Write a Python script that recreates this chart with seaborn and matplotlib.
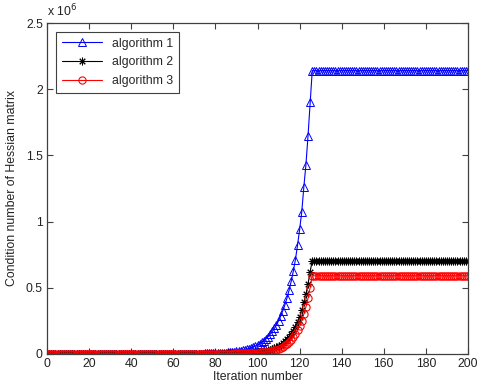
import matplotlib
matplotlib.use("Agg")
import matplotlib.pyplot as plt
import matplotlib.ticker as mticker
import seaborn as sns
import pandas as pd

# ---------------- data (values in units of 1e6) ----------------
iterations = list(range(0, 201))

alg1 = [
    0.0, 0.0, 0.0, 0.0, 0.0, 0.0, 0.0, 0.0, 0.0, 0.0,
    0.0, 0.0, 0.0, 0.0, 0.0, 0.0, 0.0, 0.0, 0.0, 0.0,
    0.0, 0.0, 0.0, 0.0, 0.0, 0.0, 0.0, 0.0, 0.0, 0.0,
    0.0, 0.0, 0.0, 0.0, 0.0, 0.0, 0.0, 0.0, 0.0, 0.0,
    0.0, 0.0, 0.0, 0.0, 0.0, 0.0, 0.0, 0.0, 0.0, 0.0,
    0.0, 0.0, 0.0, 0.0, 0.0, 0.0, 0.0, 0.0, 0.0, 0.0,
    0.001, 0.001, 0.001, 0.001, 0.001, 0.001, 0.001, 0.001, 0.001, 0.001,
    0.002, 0.002, 0.002, 0.002, 0.002, 0.003, 0.003, 0.003, 0.004, 0.004,
    0.005, 0.006, 0.007, 0.008, 0.009, 0.010, 0.011, 0.012, 0.014, 0.016,
    0.018, 0.021, 0.024, 0.027, 0.031, 0.035, 0.040, 0.046, 0.052, 0.060,
    0.068, 0.077, 0.088, 0.100, 0.114, 0.130, 0.148, 0.169, 0.192, 0.219,
    0.250, 0.285, 0.325, 0.370, 0.422, 0.481, 0.548, 0.625, 0.712, 0.820,
    0.940, 1.070, 1.260, 1.430, 1.650, 1.900, 2.140, 2.140, 2.140, 2.140,
    2.14, 2.14, 2.14, 2.14, 2.14, 2.14, 2.14, 2.14, 2.14, 2.14,
    2.14, 2.14, 2.14, 2.14, 2.14, 2.14, 2.14, 2.14, 2.14, 2.14,
    2.14, 2.14, 2.14, 2.14, 2.14, 2.14, 2.14, 2.14, 2.14, 2.14,
    2.14, 2.14, 2.14, 2.14, 2.14, 2.14, 2.14, 2.14, 2.14, 2.14,
    2.14, 2.14, 2.14, 2.14, 2.14, 2.14, 2.14, 2.14, 2.14, 2.14,
    2.14, 2.14, 2.14, 2.14, 2.14, 2.14, 2.14, 2.14, 2.14, 2.14,
    2.14, 2.14, 2.14, 2.14, 2.14, 2.14, 2.14, 2.14, 2.14, 2.14,
    2.14,
]

alg2 = [
    0.0, 0.0, 0.0, 0.0, 0.0, 0.0, 0.0, 0.0, 0.0, 0.0,
    0.0, 0.0, 0.0, 0.0, 0.0, 0.0, 0.0, 0.0, 0.0, 0.0,
    0.0, 0.0, 0.0, 0.0, 0.0, 0.0, 0.0, 0.0, 0.0, 0.0,
    0.0, 0.0, 0.0, 0.0, 0.0, 0.0, 0.0, 0.0, 0.0, 0.0,
    0.0, 0.0, 0.0, 0.0, 0.0, 0.0, 0.0, 0.0, 0.0, 0.0,
    0.0, 0.0, 0.0, 0.0, 0.0, 0.0, 0.0, 0.0, 0.0, 0.0,
    0.0, 0.0, 0.0, 0.0, 0.0, 0.0, 0.0, 0.0, 0.0, 0.0,
    0.0, 0.0, 0.0, 0.0, 0.0, 0.001, 0.001, 0.001, 0.001, 0.001,
    0.001, 0.001, 0.002, 0.002, 0.002, 0.002, 0.003, 0.003, 0.003, 0.004,
    0.004, 0.005, 0.005, 0.006, 0.007, 0.008, 0.008, 0.009, 0.010, 0.011,
    0.012, 0.014, 0.017, 0.020, 0.023, 0.027, 0.031, 0.037, 0.043, 0.050,
    0.058, 0.068, 0.080, 0.094, 0.110, 0.128, 0.150, 0.175, 0.205, 0.240,
    0.280, 0.330, 0.390, 0.450, 0.530, 0.620, 0.705, 0.705, 0.705, 0.705,
    0.705, 0.705, 0.705, 0.705, 0.705, 0.705, 0.705, 0.705, 0.705, 0.705,
    0.705, 0.705, 0.705, 0.705, 0.705, 0.705, 0.705, 0.705, 0.705, 0.705,
    0.705, 0.705, 0.705, 0.705, 0.705, 0.705, 0.705, 0.705, 0.705, 0.705,
    0.705, 0.705, 0.705, 0.705, 0.705, 0.705, 0.705, 0.705, 0.705, 0.705,
    0.705, 0.705, 0.705, 0.705, 0.705, 0.705, 0.705, 0.705, 0.705, 0.705,
    0.705, 0.705, 0.705, 0.705, 0.705, 0.705, 0.705, 0.705, 0.705, 0.705,
    0.705, 0.705, 0.705, 0.705, 0.705, 0.705, 0.705, 0.705, 0.705, 0.705,
    0.705,
]

alg3 = [
    0.0, 0.0, 0.0, 0.0, 0.0, 0.0, 0.0, 0.0, 0.0, 0.0,
    0.0, 0.0, 0.0, 0.0, 0.0, 0.0, 0.0, 0.0, 0.0, 0.0,
    0.0, 0.0, 0.0, 0.0, 0.0, 0.0, 0.0, 0.0, 0.0, 0.0,
    0.0, 0.0, 0.0, 0.0, 0.0, 0.0, 0.0, 0.0, 0.0, 0.0,
    0.0, 0.0, 0.0, 0.0, 0.0, 0.0, 0.0, 0.0, 0.0, 0.0,
    0.0, 0.0, 0.0, 0.0, 0.0, 0.0, 0.0, 0.0, 0.0, 0.0,
    0.0, 0.0, 0.0, 0.0, 0.0, 0.0, 0.0, 0.0, 0.0, 0.0,
    0.0, 0.0, 0.0, 0.0, 0.0, 0.0, 0.0, 0.0, 0.001, 0.001,
    0.001, 0.001, 0.001, 0.001, 0.002, 0.002, 0.002, 0.002, 0.002, 0.003,
    0.003, 0.003, 0.004, 0.004, 0.005, 0.005, 0.006, 0.007, 0.008, 0.009,
    0.010, 0.011, 0.012, 0.013, 0.014, 0.016, 0.019, 0.023, 0.027, 0.032,
    0.038, 0.045, 0.054, 0.064, 0.076, 0.090, 0.106, 0.126, 0.150, 0.178,
    0.210, 0.250, 0.300, 0.355, 0.420, 0.500, 0.590, 0.590, 0.590, 0.590,
    0.59, 0.59, 0.59, 0.59, 0.59, 0.59, 0.59, 0.59, 0.59, 0.59,
    0.59, 0.59, 0.59, 0.59, 0.59, 0.59, 0.59, 0.59, 0.59, 0.59,
    0.59, 0.59, 0.59, 0.59, 0.59, 0.59, 0.59, 0.59, 0.59, 0.59,
    0.59, 0.59, 0.59, 0.59, 0.59, 0.59, 0.59, 0.59, 0.59, 0.59,
    0.59, 0.59, 0.59, 0.59, 0.59, 0.59, 0.59, 0.59, 0.59, 0.59,
    0.59, 0.59, 0.59, 0.59, 0.59, 0.59, 0.59, 0.59, 0.59, 0.59,
    0.59, 0.59, 0.59, 0.59, 0.59, 0.59, 0.59, 0.59, 0.59, 0.59,
    0.59,
]

series_names = ["algorithm 1", "algorithm 2", "algorithm 3"]
x_ticks = [0, 20, 40, 60, 80, 100, 120, 140, 160, 180, 200]
y_ticks = [0, 0.5, 1, 1.5, 2, 2.5]

# ---------------- plotting ----------------
sns.set_style("ticks")
plt.rcParams["font.family"] = ["Liberation Sans", "DejaVu Sans"]
plt.rcParams["xtick.direction"] = "in"
plt.rcParams["ytick.direction"] = "in"

fig = plt.figure(figsize=(4.8, 3.91), dpi=100)
ax = fig.add_axes([0.098, 0.095, 0.877, 0.846])

styles = [
    dict(color="#0000ff", mec="#0000ff", marker="^", markersize=5.8,
         mfc="none", mew=0.7),
    dict(color="#000000", mec="#000000", mfc="#000000", marker=(8, 2, 0),
         markersize=5.5, mew=0.7),
    dict(color="#ff0000", mec="#ff0000", marker="o", markersize=5.2,
         mfc="none", mew=0.8),
]
for name, vals, st in zip(series_names, [alg1, alg2, alg3], styles):
    df = pd.DataFrame({"iter": iterations, "value": vals})
    sns.lineplot(data=df, x="iter", y="value", ax=ax, label=name,
                 linewidth=0.8, **st)

ax.set_xlim(0, 200)
ax.set_ylim(0, 2.5)
ax.set_xticks(x_ticks)
ax.set_yticks(y_ticks)
ax.yaxis.set_major_formatter(mticker.FuncFormatter(lambda v, p: f"{v:g}"))
ax.tick_params(axis="both", which="both", top=True, right=True,
               labelsize=8.8, length=4, width=0.8, color="#404040",
               labelcolor="#222222", pad=3)
for sp in ax.spines.values():
    sp.set_color("#404040")
    sp.set_linewidth(0.9)

ax.set_xlabel("Iteration number", fontsize=8.8, labelpad=1, color="#222222")
ax.set_ylabel("Condition number of Hessian matrix", fontsize=8.8,
              labelpad=6, color="#222222")
ax.text(0.0, 1.012, r"x 10$^6$", transform=ax.transAxes, fontsize=8.8,
        ha="left", va="bottom", color="#222222")

leg = ax.legend(loc="upper left", fontsize=8.8, handlelength=3.3,
                fancybox=False, framealpha=1, edgecolor="#404040",
                borderaxespad=0.7, labelspacing=0.55, borderpad=0.5)
leg.get_frame().set_linewidth(0.8)

fig.savefig("out.png", dpi=100)
